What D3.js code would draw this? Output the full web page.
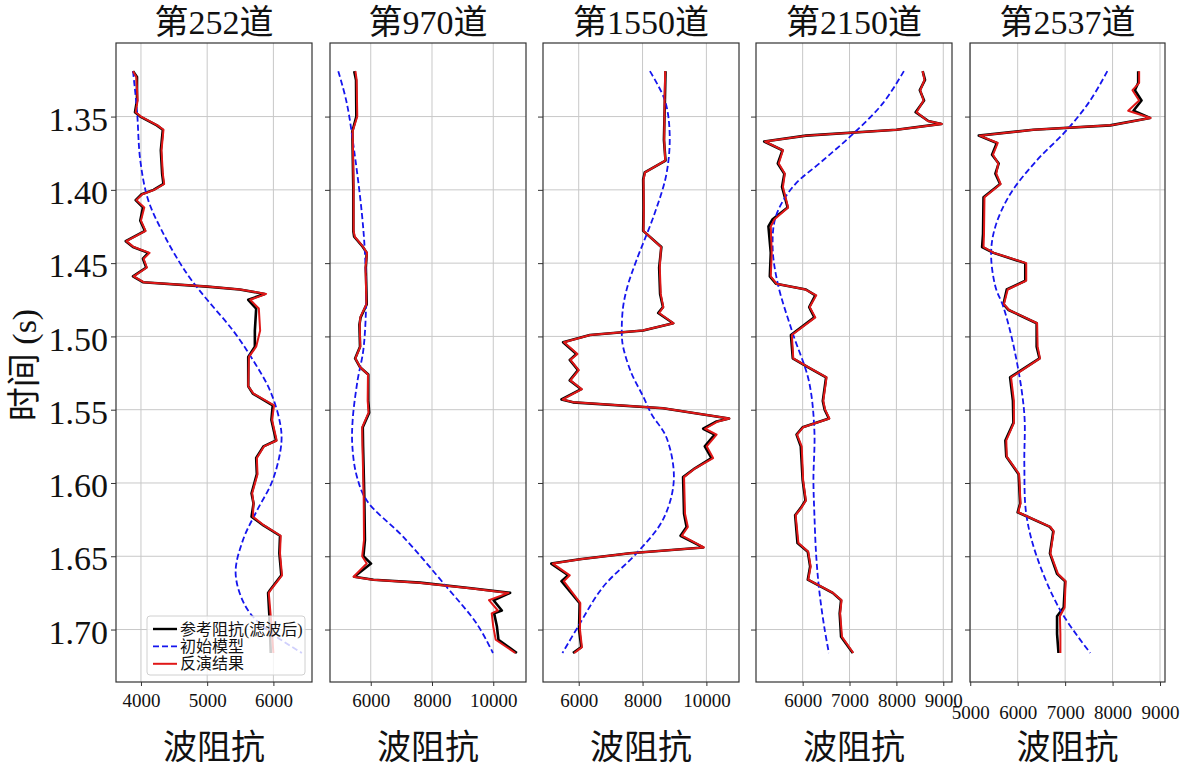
<!DOCTYPE html>
<meta charset="utf-8">
<body style="margin:0;background:#fff">
<script src="https://d3js.org/d3.v7.min.js"></script>
<script>
// ---- data (time in s, impedance) ----
var titles = ["第252道", "第970道", "第1550道", "第2150道", "第2537道"];
var legendLabels = ["参考阻抗(滤波后)", "初始模型", "反演结果"];
var yTicks = [1.35, 1.40, 1.45, 1.50, 1.55, 1.60, 1.65, 1.70];
var xTicks = [[4000, 5000, 6000], [6000, 8000, 10000], [6000, 8000, 10000],
              [6000, 7000, 8000, 9000], [5000, 6000, 7000, 8000, 9000]];
var xDomains = [[3623, 6583], [4670, 11069], [4881, 11022], [5005, 9186], [4995, 9105]];

// trace 252
var t252 = [1.319,1.323,1.339,1.347,1.350,1.356,1.359,1.373,1.389,1.396,1.400,1.403,1.407,1.412,1.421,1.428,1.435,1.439,1.443,1.447,1.453,1.459,1.463,1.466,1.468,1.471,1.475,1.481,1.496,1.507,1.514,1.534,1.539,1.547,1.557,1.571,1.575,1.583,1.594,1.607,1.614,1.623,1.629,1.636,1.648,1.663,1.673,1.675,1.691,1.716];
var ref252 = [3880,3940,3940,3910,3990,4240,4330,4300,4320,4340,4190,4010,3920,4030,3990,4060,3770,3880,4110,4030,4080,3880,4030,5000,5490,5870,5620,5740,5720,5720,5620,5620,5690,5990,5970,6040,5850,5740,5750,5670,5700,5670,5850,6100,6090,6120,5950,5920,5940,5960];
var inv252 = [3880,3930,3950,3920,4000,4250,4340,4310,4330,4350,4200,4020,3930,4050,4000,4070,3780,3890,4130,4040,4090,3890,4040,5000,5500,5890,5650,5780,5800,5740,5630,5620,5700,6010,5980,6050,5860,5750,5760,5680,5700,5690,5860,6110,6100,6130,5960,5930,5960,6000];
var it252 = [1.319,1.346,1.380,1.407,1.430,1.450,1.462,1.475,1.496,1.516,1.537,1.559,1.573,1.598,1.619,1.639,1.662,1.685,1.700,1.716];
var init252 = [3880,3940,3990,4110,4340,4590,4770,5000,5390,5690,5950,6100,6120,5990,5750,5540,5430,5590,5900,6430];

// trace 970
var t970 = [1.319,1.325,1.350,1.360,1.373,1.398,1.428,1.432,1.438,1.443,1.453,1.478,1.487,1.492,1.507,1.515,1.521,1.526,1.544,1.552,1.562,1.575,1.609,1.639,1.650,1.655,1.664,1.666,1.668,1.672,1.675,1.680,1.687,1.689,1.698,1.707,1.716];
var ref970 = [5460,5520,5530,5400,5410,5430,5430,5460,5710,5870,5840,5870,5670,5630,5650,5490,5650,5920,5920,5950,5740,5750,5790,5810,5760,6010,5460,6090,7610,9350,10550,10010,10280,10030,10120,10170,10770];
var inv970 = [5500,5540,5560,5410,5420,5440,5440,5480,5720,5880,5830,5860,5660,5640,5660,5500,5660,5910,5900,5930,5720,5730,5770,5780,5720,5870,5440,6060,7580,9300,10500,9860,10150,9950,10000,10080,10720];
var it970 = [1.319,1.341,1.378,1.416,1.443,1.475,1.509,1.530,1.557,1.575,1.595,1.612,1.637,1.671,1.696,1.716];
var init970 = [4940,5220,5490,5710,5810,5850,5760,5570,5410,5400,5540,5870,7070,8480,9460,9990];

// trace 1550
var t1550 = [1.319,1.339,1.366,1.380,1.388,1.393,1.412,1.428,1.439,1.453,1.471,1.480,1.484,1.491,1.496,1.499,1.504,1.512,1.516,1.523,1.530,1.536,1.543,1.545,1.549,1.556,1.558,1.563,1.567,1.575,1.583,1.590,1.596,1.621,1.630,1.636,1.644,1.648,1.652,1.655,1.663,1.667,1.682,1.700,1.712,1.716];
var ref1550 = [8720,8700,8670,8720,8070,8020,8030,8020,8590,8520,8550,8640,8490,8960,8020,6350,5510,5930,5720,5980,5720,6080,5460,5820,8640,10710,10320,9900,10260,9950,10160,9640,9270,9300,9380,9190,9900,7600,6030,5140,5670,5460,6030,6010,6080,5820];
var inv1550 = [8710,8690,8680,8710,8080,8030,8040,8030,8580,8540,8570,8650,8520,8970,8000,6360,5540,5960,5740,6000,5740,6100,5500,5850,8650,10720,10360,9960,10320,10010,10210,9650,9300,9330,9420,9230,9920,7600,6050,5190,5720,5530,6050,6040,6100,5860];
var it1550 = [1.319,1.339,1.362,1.389,1.416,1.448,1.465,1.480,1.498,1.507,1.525,1.541,1.553,1.569,1.598,1.625,1.648,1.671,1.698,1.716];
var init1550 = [8230,8700,8850,8750,8380,7810,7540,7390,7350,7390,7650,8020,8280,8750,8980,8640,7810,6760,5980,5490];

// trace 2150
var t2150 = [1.319,1.325,1.332,1.339,1.347,1.353,1.355,1.359,1.363,1.367,1.373,1.382,1.389,1.398,1.412,1.420,1.425,1.443,1.459,1.464,1.468,1.472,1.480,1.487,1.499,1.515,1.521,1.528,1.544,1.550,1.556,1.562,1.567,1.575,1.598,1.612,1.617,1.622,1.641,1.647,1.657,1.666,1.675,1.680,1.689,1.705,1.716];
var ref2150 = [8560,8610,8500,8590,8410,8680,8960,8000,6070,5180,5570,5470,5610,5560,5680,5360,5270,5320,5300,5430,6070,6270,6140,6250,5750,5790,6110,6500,6430,6470,6560,6000,5870,5960,6000,6060,5960,5840,5890,6110,6160,6110,6640,6820,6790,6820,7070];
var inv2150 = [8560,8600,8510,8580,8430,8670,8970,8010,6080,5200,5580,5490,5620,5580,5690,5400,5320,5340,5320,5440,6060,6290,6150,6270,5770,5800,6120,6510,6440,6480,6570,6010,5880,5980,6010,6070,5970,5850,5910,6120,6170,6120,6650,6830,6800,6840,7080];
var it2150 = [1.319,1.341,1.362,1.380,1.398,1.418,1.439,1.464,1.498,1.530,1.564,1.598,1.621,1.650,1.675,1.700,1.716];
var init2150 = [8160,7710,7070,6430,5790,5430,5360,5470,5790,6130,6250,6230,6250,6290,6360,6470,6560];

// trace 2537
var t2537 = [1.319,1.327,1.332,1.339,1.346,1.351,1.356,1.359,1.363,1.368,1.376,1.382,1.389,1.396,1.405,1.430,1.439,1.443,1.450,1.462,1.468,1.478,1.482,1.491,1.507,1.515,1.528,1.544,1.559,1.571,1.582,1.594,1.614,1.620,1.630,1.633,1.648,1.662,1.667,1.685,1.691,1.703,1.716];
var ref2537 = [8540,8540,8470,8610,8440,8790,7950,6330,5180,5560,5460,5600,5530,5630,5280,5270,5250,5490,6160,6160,5770,5700,5810,6400,6400,6460,5840,5900,5910,5740,5760,6020,6050,6000,6680,6750,6680,6830,7000,6970,6830,6830,6860];
var inv2537 = [8560,8560,8420,8560,8330,8800,7960,6340,5200,5580,5480,5590,5550,5640,5300,5290,5280,5500,6180,6180,5790,5710,5820,6410,6420,6470,5860,5920,5920,5760,5770,6030,6060,6010,6690,6760,6690,6850,7010,6990,6890,6900,6900];
var it2537 = [1.319,1.339,1.359,1.380,1.403,1.425,1.443,1.466,1.480,1.512,1.553,1.587,1.621,1.650,1.687,1.716];
var init2537 = [7890,7530,7040,6400,5840,5530,5440,5530,5700,5950,6140,6140,6180,6400,6900,7530];

var traces = [
  {t: t252, ref: ref252, inv: inv252, it: it252, init: init252},
  {t: t970, ref: ref970, inv: inv970, it: it970, init: init970},
  {t: t1550, ref: ref1550, inv: inv1550, it: it1550, init: init1550},
  {t: t2150, ref: ref2150, inv: inv2150, it: it2150, init: init2150},
  {t: t2537, ref: ref2537, inv: inv2537, it: it2537, init: init2537}
];

// ---- layout ----
var width = 1181, height = 768;
var plotTop = 43, plotBottom = 682;
var lefts = [116, 330, 543, 756, 970];
var widths = [196, 196, 196, 196, 195];
var fontStack = '"Liberation Serif", "Noto Sans CJK SC", serif';

var svg = d3.select("body").append("svg")
    .attr("width", width)
    .attr("height", height)
    .style("font-family", fontStack);

var y = d3.scaleLinear().domain([1.2998, 1.7358]).range([plotTop, plotBottom]);

traces.forEach(function(tr, i) {
  var w = widths[i];
  var x = d3.scaleLinear().domain(xDomains[i]).range([0, w]);
  var g = svg.append("g").attr("transform", "translate(" + lefts[i] + ",0)");

  // grid
  g.selectAll(".vgrid").data(xTicks[i]).enter().append("line")
      .attr("x1", d => x(d)).attr("x2", d => x(d))
      .attr("y1", plotTop).attr("y2", plotBottom)
      .attr("stroke", "#c8c8c8").attr("stroke-width", 1);
  g.selectAll(".hgrid").data(yTicks).enter().append("line")
      .attr("x1", 0).attr("x2", w)
      .attr("y1", d => y(d)).attr("y2", d => y(d))
      .attr("stroke", "#c8c8c8").attr("stroke-width", 1);

  var line = d3.line().x(d => x(d[1])).y(d => y(d[0]));
  var smooth = d3.line().x(d => x(d[1])).y(d => y(d[0])).curve(d3.curveCatmullRom);

  g.append("path").datum(d3.zip(tr.t, tr.ref))
      .attr("d", line).attr("fill", "none")
      .attr("stroke", "#000").attr("stroke-width", 2.6).attr("stroke-linejoin", "round");
  g.append("path").datum(d3.zip(tr.it, tr.init))
      .attr("d", smooth).attr("fill", "none")
      .attr("stroke", "#1515ee").attr("stroke-width", 1.8).attr("stroke-dasharray", "6,3");
  g.append("path").datum(d3.zip(tr.t, tr.inv))
      .attr("d", line).attr("fill", "none")
      .attr("stroke", "#e01818").attr("stroke-width", 2).attr("stroke-linejoin", "round");

  // frame
  g.append("rect")
      .attr("x", 0).attr("y", plotTop)
      .attr("width", w).attr("height", plotBottom - plotTop)
      .attr("fill", "none").attr("stroke", "#333").attr("stroke-width", 1.2);

  // x axis
  var xa = g.append("g").attr("transform", "translate(0," + plotBottom + ")")
      .call(d3.axisBottom(x).tickValues(xTicks[i]).tickSize(4)
            .tickPadding(i == 4 ? 20 : 7.5).tickFormat(d3.format("d")));
  xa.select(".domain").remove();
  xa.selectAll("line").attr("stroke", "#333");
  xa.selectAll("text").style("font-size", "19px").style("font-family", fontStack).attr("fill", "#111");

  // y axis
  var ya = g.append("g")
      .call(d3.axisLeft(y).tickValues(yTicks).tickSize(5).tickPadding(3)
            .tickFormat(i == 0 ? d3.format(".2f") : ""));
  ya.select(".domain").remove();
  ya.selectAll("line").attr("stroke", "#333");
  ya.selectAll("text").style("font-size", "34px").style("font-family", fontStack)
      .attr("dy", "0.4em").attr("fill", "#111");

  // title and x label
  g.append("text").attr("x", w / 2).attr("y", 34)
      .attr("text-anchor", "middle").style("font-size", "34px").attr("fill", "#111")
      .text(titles[i]);
  g.append("text").attr("x", w / 2).attr("y", 759)
      .attr("text-anchor", "middle").style("font-size", "34px").attr("fill", "#111")
      .text("波阻抗");

  // legend only in first panel
  if (i == 0) {
    var lg = g.append("g").attr("transform", "translate(31,616)");
    lg.append("rect").attr("width", 158).attr("height", 59).attr("rx", 3)
        .attr("fill", "#fff").attr("fill-opacity", 0.8)
        .attr("stroke", "#d0d0d0").attr("stroke-width", 1);
    var styles = [
      {c: "#000", dash: null, sw: 2.4},
      {c: "#1515ee", dash: "6,3", sw: 1.8},
      {c: "#e01818", dash: null, sw: 2}
    ];
    legendLabels.forEach(function(lab, k) {
      var cy = 13 + k * 17.4;
      lg.append("line").attr("x1", 6).attr("x2", 30).attr("y1", cy).attr("y2", cy)
          .attr("stroke", styles[k].c).attr("stroke-width", styles[k].sw)
          .attr("stroke-dasharray", styles[k].dash);
      lg.append("text").attr("x", 33).attr("y", cy + 5.5)
          .style("font-size", "16px").attr("fill", "#111").text(lab);
    });
  }
});

// y label
svg.append("text")
    .attr("transform", "translate(36,365) rotate(-90)")
    .attr("text-anchor", "middle")
    .style("font-size", "34px").attr("fill", "#111")
    .text("时间 (s)");
</script>
</body>
